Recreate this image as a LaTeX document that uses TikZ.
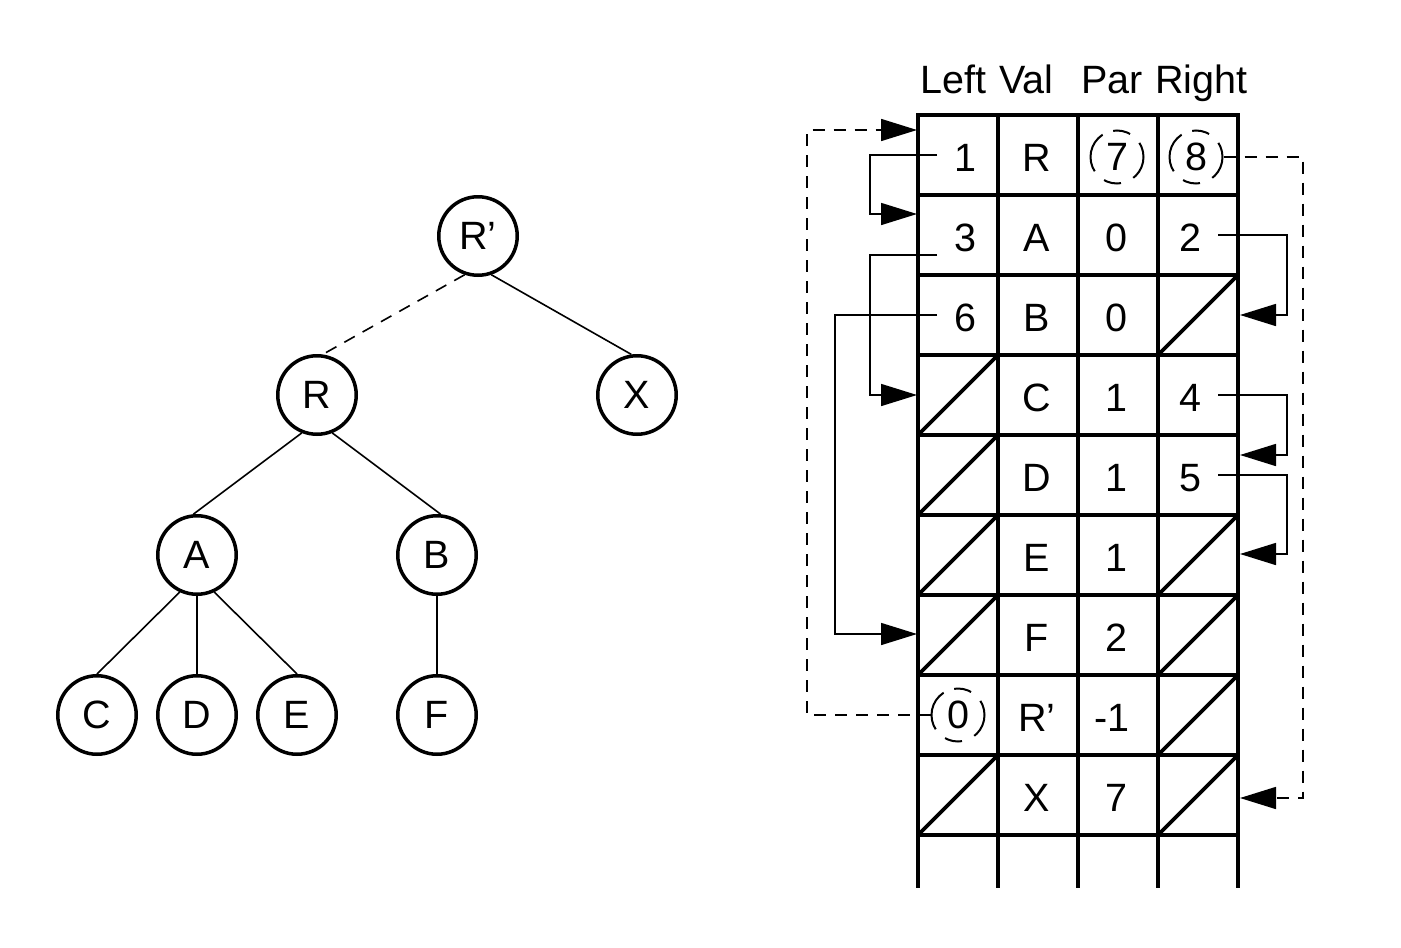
\documentclass[tikz,border=0pt]{standalone}
\usepackage{fontspec}
\setmainfont{Liberation Sans}
\usetikzlibrary{arrows.meta}
\begin{document}
\begin{tikzpicture}[x=1pt,y=-1pt,
  every node/.style={font=\fontsize{39.5}{47}\selectfont, inner sep=0pt},
  treenode/.style={circle, draw, line width=3.5pt, minimum size=78.5pt},
  edge/.style={line width=1.6pt},
  gridline/.style={line width=3.6pt},
  ptr/.style={line width=1.6pt, -{Triangle[length=36pt,width=22pt]}},
  dptr/.style={ptr, dash pattern=on 12pt off 9pt},
  ring/.style={circle, draw, line width=2pt, minimum size=53pt,
    dash pattern=on 29.7pt off 13pt on 17.5pt off 11.3pt on 41.5pt off 13pt on 17.5pt off 13.5pt,
    dash phase=14.8pt},
  cell/.style={anchor=base}
]
\useasboundingbox (0,0) rectangle (1401,948);

% ---------- tree ----------
\node[treenode] (Rp) at (478,236) {R’};
\node[treenode] (R)  at (317,395) {R};
\node[treenode] (X)  at (637,395) {X};
\node[treenode] (A)  at (197,555) {A};
\node[treenode] (B)  at (437,555) {B};
\node[treenode] (C)  at (97,715)  {C};
\node[treenode] (D)  at (197,715) {D};
\node[treenode] (E)  at (297,715) {E};
\node[treenode] (F)  at (437,715) {F};

\draw[edge, dash pattern=on 12pt off 9pt] (Rp.251) -- (R.82);
\draw[edge] (Rp.289) -- (X.98);
\draw[edge] (R.248) -- (A.95);
\draw[edge] (R.292) -- (B.85);
\draw[edge] (A.245) -- (C.north);
\draw[edge] (A.270) -- (D.north);
\draw[edge] (A.295) -- (E.north);
\draw[edge] (B.270) -- (F.north);

% ---------- array table ----------
\node[anchor=base west] (hL) at (920,93)  {Left};
\node[anchor=base west] (hV) at (999,93)  {Val};
\node[anchor=base west] (hP) at (1081,93) {Par};
\node[anchor=base west] (hR) at (1155,93) {Right};

\foreach \i in {0,...,9}
  \draw[gridline, line cap=rect] (918,115+80*\i) -- (1238,115+80*\i);
\foreach \x in {918,998,1078,1158,1238}
  \draw[gridline] (\x,115) -- (\x,888);

% empty links: diagonal slash in the cell
\foreach \c/\r in {0/3,0/4,0/5,0/6,0/8,3/2,3/5,3/6,3/7,3/8}
  \draw[gridline] (918+80*\c,195+80*\r) -- (998+80*\c,115+80*\r);

% row 0
\node[cell] (l0) at (965,171) {1};
\node[cell] (v0) at (1037,171) {R};
\node[ring] (p0) at (1117,157) {7};
\node[ring] (r0) at (1196,157) {8};
% row 1
\node[cell] (l1) at (965,251) {3};
\node[cell] (v1) at (1037,251) {A};
\node[cell] (p1) at (1116,251) {0};
\node[cell] (r1) at (1190,251) {2};
% row 2
\node[cell] (l2) at (965,331) {6};
\node[cell] (v2) at (1037,331) {B};
\node[cell] (p2) at (1116,331) {0};
% row 3
\node[cell] (v3) at (1037,411) {C};
\node[cell] (p3) at (1116,411) {1};
\node[cell] (r3) at (1190,411) {4};
% row 4
\node[cell] (v4) at (1037,491) {D};
\node[cell] (p4) at (1116,491) {1};
\node[cell] (r4) at (1190,491) {5};
% row 5
\node[cell] (v5) at (1037,571) {E};
\node[cell] (p5) at (1116,571) {1};
% row 6
\node[cell] (v6) at (1037,651) {F};
\node[cell] (p6) at (1116,651) {2};
% row 7
\node[ring] (l7) at (958,715) {0};
\node[cell] (v7) at (1037,731) {R’};
\node[cell] (p7) at (1112,731) {-1};
% row 8
\node[cell] (v8) at (1037,811) {X};
\node[cell] (p8) at (1116,811) {7};

% link ends
\coordinate (s1) at (937,155);  \coordinate (t1) at (917,214);
\coordinate (s3) at (937,255);  \coordinate (t3) at (917,395);
\coordinate (s6) at (937,315);  \coordinate (t6) at (917,634);
\coordinate (s2) at (1218,235); \coordinate (t2) at (1240,315);
\coordinate (s4) at (1218,395); \coordinate (t4) at (1240,455);
\coordinate (s5) at (1218,475); \coordinate (t5) at (1240,554);
\coordinate (tX) at (1240,798);
\coordinate (tR) at (917,130);

\draw[ptr] (s1) -- ++(-67,0) |- (t1);
\draw[ptr] (s3) -- ++(-67,0) |- (t3);
\draw[ptr] (s6) -- ++(-102,0) |- (t6);
\draw[ptr] (s2) -- ++(69,0) |- (t2);
\draw[ptr] (s4) -- ++(69,0) |- (t4);
\draw[ptr] (s5) -- ++(69,0) |- (t5);
\draw[dptr] (r0.east) -- (1303,157) |- (tX);
\draw[dptr] (l7.west) -- (807,715) |- (tR);
\end{tikzpicture}
\end{document}
